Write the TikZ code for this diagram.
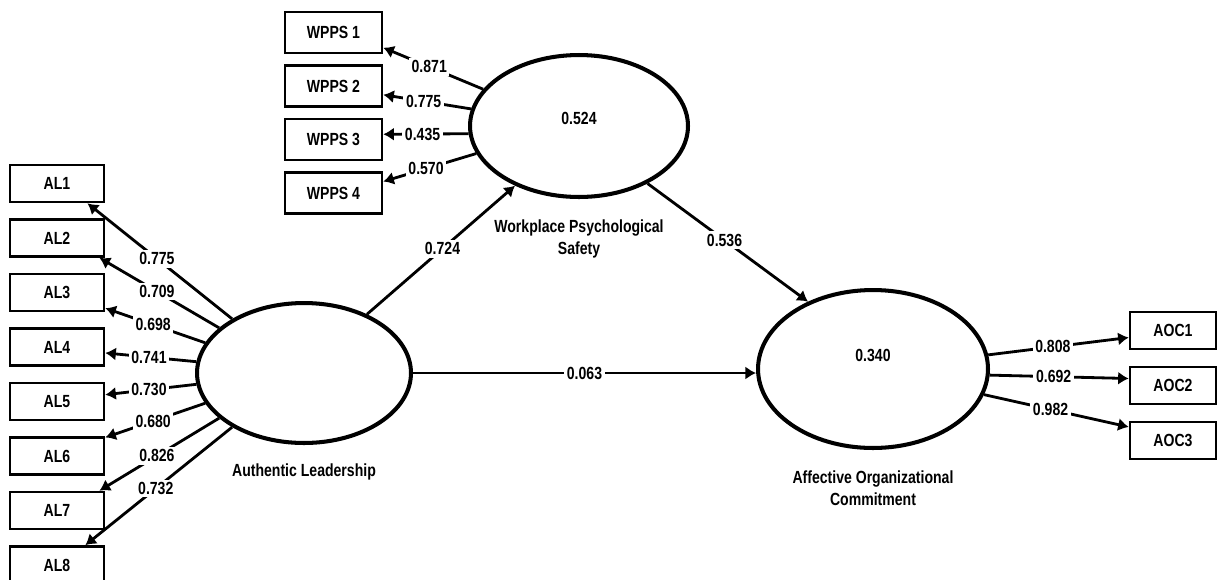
\documentclass[tikz,border=0pt]{standalone}
\usepackage{fontspec}
\setmainfont{Liberation Sans}[FakeStretch=0.8]
\usetikzlibrary{arrows.meta,positioning,shapes.geometric}

\begin{document}
\begin{tikzpicture}[x=0.02cm,y=-0.02cm,
  item/.style={draw=black,line width=1.5pt,rectangle,minimum width=1.88cm,minimum height=0.74cm,font=\fontsize{10}{12}\selectfont\bfseries},
  latent/.style={draw=black,line width=2.3pt,ellipse},
  link/.style={line width=1.6pt,-{Latex[length=6pt,width=7.5pt]}},
  coef/.style={fill=white,inner sep=1.5pt,font=\fontsize{10}{12}\selectfont\bfseries},
  caption/.style={align=center,font=\fontsize{10}{12.5}\selectfont\bfseries}]
\useasboundingbox (0,0) rectangle (1220,579);

% indicator boxes
\foreach \i in {1,...,8}
  \node[item] (al\i) at (57,{183.5+54.5*(\i-1)}) {AL\i};
\foreach \i in {1,...,4}
  \node[item,minimum width=1.94cm,minimum height=0.82cm] (wpps\i) at (333.5,{32.5+53.5*(\i-1)}) {WPPS \i};
\foreach \i in {1,2,3}
  \node[item,minimum width=1.72cm] (aoc\i) at (1173,{330.5+55*(\i-1)}) {AOC\i};

% the constructs
\node[latent,minimum width=4.28cm,minimum height=2.8cm] (al) at (304,373) {};
\node[latent,minimum width=4.36cm,minimum height=2.84cm] (wpps) at (579,126) {};
\node[latent,minimum width=4.6cm,minimum height=3.16cm] (aoc) at (873,369) {};
\node[caption] (wppsval) at ([yshift=0.16cm]wpps.center) {0.524};
\node[caption] (aocval) at ([yshift=0.28cm]aoc.center) {0.340};
\node[caption,below=0.25cm of al] (altext) {Authentic Leadership};
\node[caption,below=0.3cm of wpps] (wppstext) {Workplace Psychological\\Safety};
\node[caption,below=0.3cm of aoc] (aoctext) {Affective Organizational\\Commitment};

% outer loadings
\foreach \i/\a/\b/\v in {1/143/-33/0.775,2/152/-25/0.709,3/163/-18/0.698,4/174/-7/0.741,
                         5/186/8/0.730,6/197/21/0.680,7/208/25/0.826,8/217/35/0.732}
  \draw[link] (al.\a) -- node[coef,pos=0.52] (alc\i) {\v} (al\i.\b);
\foreach \i/\a/\b/\v in {1/159/-17/0.871,2/171/-10/0.775,3/184/6/0.435,4/195/13/0.570}
  \draw[link] (wpps.\a) -- node[coef,pos=0.54] (wppsc\i) {\v} (wpps\i.\b);
\foreach \i/\a/\b/\v in {1/7/189/0.808,2/-3/171/0.692,3/-13/163/0.982}
  \draw[link] (aoc.\a) -- node[coef,pos=0.46] (aocc\i) {\v} (aoc\i.\b);

% path coefficients
\draw[link] (al.43) -- node[coef,pos=0.51] (b1) {0.724} (wpps.223);
\draw[link] (wpps.-40) -- node[coef,pos=0.48] (b2) {0.536} (aoc.134);
\draw[link] (al.east) -- node[coef,pos=0.5] (b3) {0.063} (aoc.west |- al.east);
\end{tikzpicture}
\end{document}
